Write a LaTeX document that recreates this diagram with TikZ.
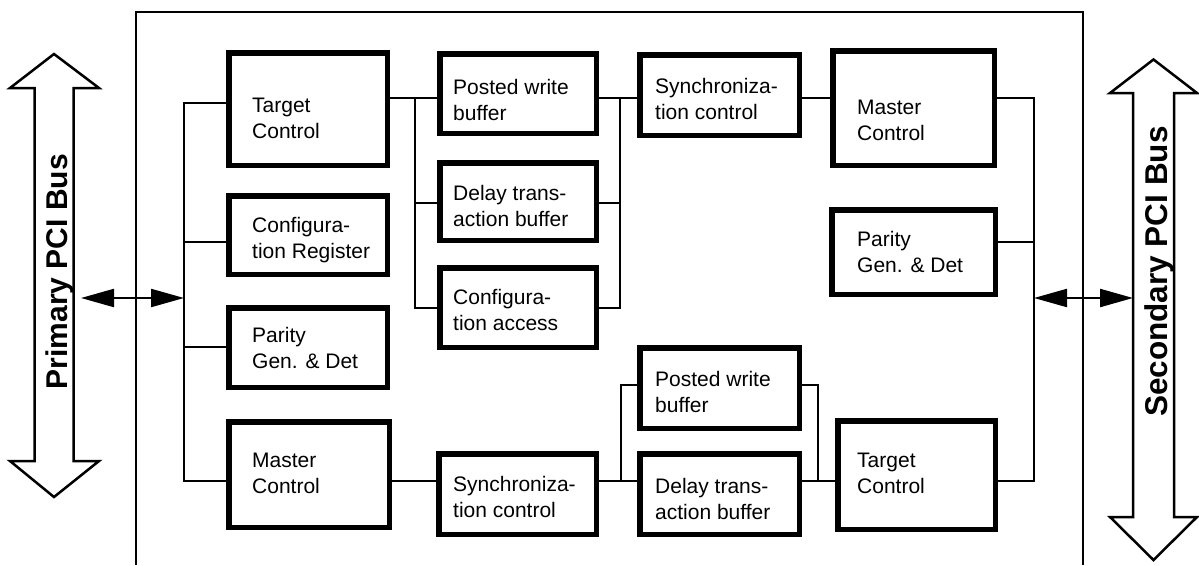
\documentclass[tikz,border=0pt]{standalone}
\usepackage{fontspec}
\setmainfont{Liberation Sans}
\usetikzlibrary{arrows.meta}
\begin{document}
\begin{tikzpicture}[x=1pt,y=-1pt,
  box/.style={draw, line width=5.5pt, inner sep=0pt},
  txt/.style={anchor=west, align=left, inner sep=0pt, font=\fontsize{21}{26}\selectfont},
  wire/.style={line width=2.2pt, line join=miter},
  frameline/.style={line width=2.8pt},
  bigarrow/.style={line width=2.5pt, line join=miter},
  biarrow/.style={line width=2.2pt, {Triangle[length=33pt,width=18pt]}-{Triangle[length=33pt,width=18pt]}},
  buslabel/.style={rotate=90, inner sep=0pt, font=\bfseries}]
\useasboundingbox (0,0) rectangle (1199,565);

% frame
\draw[frameline] (136,565) -- (136,12) -- (1083,12) -- (1083,565);

% big bus arrows
\draw[bigarrow] (54,54) -- (99,88) -- (73.5,88) -- (73.5,461) -- (99,461) -- (54,497)
  -- (10,461) -- (34.5,461) -- (34.5,88) -- (10,88) -- cycle;
\draw[bigarrow] (1153.5,59.5) -- (1197,93) -- (1174,93) -- (1174,517) -- (1197,517)
  -- (1153.5,560) -- (1110,517) -- (1133,517) -- (1133,93) -- (1110,93) -- cycle;
\node[buslabel, font=\fontsize{30}{36}\bfseries] (plbl) at (60,271.5) {Primary PCI Bus};
\node[buslabel, font=\fontsize{31.5}{36}\bfseries] (slbl) at (1159.5,271.5) {Secondary PCI Bus};

% boxes
\node[box, minimum width=158.5, minimum height=112.5] (tcL) at (308,109) {};
\node[box, minimum width=158.5, minimum height=78.5] (cr) at (308,235) {};
\node[box, minimum width=158.5, minimum height=79.5] (parL) at (308,347.5) {};
\node[box, minimum width=160.5, minimum height=105.5] (mcL) at (309,474.5) {};
\node[box, minimum width=156.5, minimum height=79.5] (pwbT) at (518,93.5) {};
\node[box, minimum width=156.5, minimum height=77.5] (dtbT) at (518,201.5) {};
\node[box, minimum width=156.5, minimum height=79.5] (ca) at (518,307.5) {};
\node[box, minimum width=159.5, minimum height=80.5] (syncT) at (719.5,95) {};
\node[box, minimum width=161.5, minimum height=114.5] (mcR) at (913.5,108) {};
\node[box, minimum width=163.5, minimum height=84.5] (parR) at (913.5,252) {};
\node[box, minimum width=157.5, minimum height=80.5] (syncB) at (517.5,494) {};
\node[box, minimum width=159.5, minimum height=80.5] (pwbB) at (719.5,388) {};
\node[box, minimum width=159.5, minimum height=80.5] (dtbB) at (719.5,494) {};
\node[box, minimum width=157.5, minimum height=108.5] (tcR) at (916.5,475) {};

% texts
\node[txt] (tcLt) at (252,118.5) {Target\\Control};
\node[txt] (crt) at (252,240) {Configura-\\tion Register};
\node[txt] (parLt) at (252,348) {Parity\\Gen. \& Det};
\node[txt] (mcLt) at (252,473) {Master\\Control};
\node[txt] (pwbTt) at (453,99.5) {Posted write\\buffer};
\node[txt] (dtbTt) at (453,205.5) {Delay trans-\\action buffer};
\node[txt] (cat) at (453,309.5) {Configura-\\tion access};
\node[txt] (syncTt) at (655,98.5) {Synchroniza-\\tion control};
\node[txt] (mcRt) at (857,120.5) {Master\\Control};
\node[txt] (parRt) at (857,252) {Parity\\Gen. \& Det};
\node[txt] (syncBt) at (453,496.5) {Synchroniza-\\tion control};
\node[txt] (pwbBt) at (655,392) {Posted write\\buffer};
\node[txt] (dtbBt) at (655,498.5) {Delay trans-\\action buffer};
\node[txt] (tcRt) at (857,473.5) {Target\\Control};

% junction coordinates
\coordinate (lbT) at (184,103);
\coordinate (lb2) at (184,242);
\coordinate (lb3) at (184,347);
\coordinate (lbB) at (184,481);
\coordinate (m1) at (415,98);
\coordinate (m2) at (415,203);
\coordinate (m3) at (415,308);
\coordinate (n1) at (620,98);
\coordinate (n2) at (620,203);
\coordinate (n3) at (620,308);
\coordinate (rbT) at (1034,98);
\coordinate (rb2) at (1034,242);
\coordinate (rbB) at (1034,481);
\coordinate (b1) at (621,385);
\coordinate (b2) at (621,481);
\coordinate (c1) at (818,385);
\coordinate (c2) at (818,481);
\coordinate (pa) at (81,298);
\coordinate (pb) at (184,298);
\coordinate (sa) at (1034,298);
\coordinate (sb) at (1133,298);

% primary side bus
\draw[wire] (lbT -| tcL.west) -- (lbT) -- (lbB) -- (lbB -| mcL.west);
\draw[wire] (lb2) -- (lb2 -| cr.west);
\draw[wire] (lb3) -- (lb3 -| parL.west);
\draw[biarrow] (pa) -- (pb);

% upper path
\draw[wire] (tcL.east |- m1) -- (pwbT.west |- m1);
\draw[wire] (m1) -- (m3) -- (m3 -| ca.west);
\draw[wire] (m2) -- (m2 -| dtbT.west);
\draw[wire] (pwbT.east |- n1) -- (syncT.west |- n1);
\draw[wire] (n1) -- (n3) -- (n3 -| ca.east);
\draw[wire] (n2 -| dtbT.east) -- (n2);
\draw[wire] (syncT.east |- n1) -- (mcR.west |- n1);

% secondary side bus
\draw[wire] (mcR.east |- rbT) -- (rbT) -- (rbB) -- (rbB -| tcR.east);
\draw[wire] (rb2 -| parR.east) -- (rb2);
\draw[biarrow] (sa) -- (sb);

% lower path
\draw[wire] (mcL.east |- b2) -- (syncB.west |- b2);
\draw[wire] (syncB.east |- b2) -- (dtbB.west |- b2);
\draw[wire] (b2) -- (b1) -- (b1 -| pwbB.west);
\draw[wire] (dtbB.east |- c2) -- (tcR.west |- c2);
\draw[wire] (c2) -- (c1) -- (c1 -| pwbB.east);
\end{tikzpicture}
\end{document}
